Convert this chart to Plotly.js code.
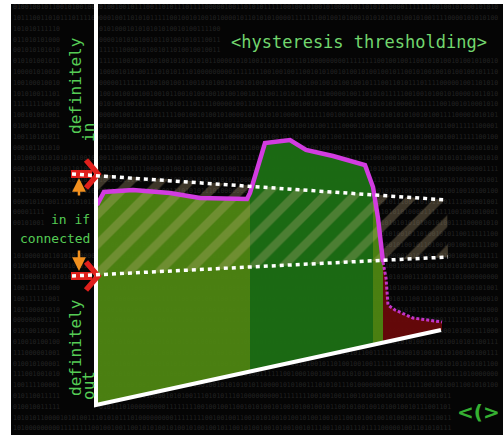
<!DOCTYPE html>
<html>
<head>
<meta charset="utf-8">
<script src="https://cdn.plot.ly/plotly-3.0.1.min.js"></script>
<style>
  html, body { margin: 0; padding: 0; background: #ffffff; }
  #chart { width: 503px; height: 435px; }
</style>
</head>
<body>
<div id="chart"></div>
<script>
// ---- data (picture coordinates: x to the right, y downward) ----
// image signal (magenta profile)
const signalX = [97, 104, 133, 170, 200, 247, 250, 265, 290, 306, 333, 365, 373, 378, 383];
const signalY = [205, 192, 190, 193, 198, 199, 193, 143, 140, 150, 156, 165, 187, 218, 262];
// tail of the signal (dotted, below the low threshold)
const tailX = [383, 386, 388, 395, 413, 442];
const tailY = [262, 278, 305, 310, 318, 322];
// slanted baseline (bottom axis)
const baseX = [97, 250, 373, 383, 442];
const baseY = [405, 371, 345, 342, 330];
// axes
const axisX = [96, 96, 441];
const axisY = [4, 405, 330];
// thresholds (start, end)
const highX = [72, 447];
const highY = [174, 200];
const lowX = [72, 448];
const lowY = [276, 257];
// hatched "in if connected" band
const bandX = [96, 447, 448, 96];
const bandY = [174, 200, 257, 276];
// red markers on the vertical axis
const markerLevels = [174, 276];
// label texts
const titleText = "<hysteresis thresholding>";
const midLabels = ["in if", "connected"];
const topLabels = ["definitely", "in"];
const bottomLabels = ["definitely", "out"];
const logoText = "<(>";
// binary digits of the backdrop (cycled row by row)
const binaryPool = [
  "010010010110010100100101001001011100110101",
  "110111100000100110101011111001001010010100",
  "001011010101000011111110010010100010101010",
  "101001010011110000101010100101101001010110",
  "011111100001010010110100100100111111001000",
  "100100101010101011000010101001110101011101",
  "000000000111111110010010011001010100101001"
];

const traces = [];

// ---- backdrop binary rows, kept clear of the labels ----
const labelBoxes = [
  [226, 492, 30, 55],   // title
  [48, 94, 209, 229],   // in if
  [16, 94, 228, 248],   // connected
  [64, 98, 32, 145],    // definitely / in
  [64, 98, 292, 404],   // definitely / out
  [455, 503, 399, 426]  // logo
];
const digitStream = binaryPool.join('');
const charW = 3.92;
const bgX = [], bgY = [], bgT = [];
for (let i = 0; i < 40; i++) {
  const y = 7.5 + i * 10.8;
  let free = [[12, 502]];
  labelBoxes.forEach(function (b) {
    if (y + 4 < b[2] || y - 4 > b[3]) return;
    const next = [];
    free.forEach(function (f) {
      if (b[1] <= f[0] || b[0] >= f[1]) { next.push(f); return; }
      if (b[0] > f[0]) next.push([f[0], b[0]]);
      if (b[1] < f[1]) next.push([b[1], f[1]]);
    });
    free = next;
  });
  free.forEach(function (f, k) {
    const n = Math.floor((f[1] - f[0]) / charW) - 1;
    if (n < 3) return;
    const start = (i * 29 + k * 53) % digitStream.length;
    let s = '';
    for (let c = 0; c < n; c++) s += digitStream[(start + c) % digitStream.length];
    bgX.push(f[0] + 1); bgY.push(y); bgT.push(s);
  });
}
traces.push({
  x: bgX, y: bgY, text: bgT, mode: 'text', type: 'scatter',
  textposition: 'middle right', cliponaxis: false,
  textfont: { family: 'DejaVu Sans Mono', size: 6.5, color: '#222222' },
  hoverinfo: 'skip', showlegend: false
});

// olive area under the whole signal
traces.push({
  x: signalX.concat([baseX[3], baseX[0]]), y: signalY.concat([baseY[3], baseY[0]]),
  type: 'scatter', mode: 'lines', fill: 'toself',
  fillcolor: 'rgba(78,134,18,0.95)', line: { width: 0 }, hoverinfo: 'skip', showlegend: false
});
// dark green section
traces.push({
  x: signalX.slice(6, 13).concat([baseX[2], baseX[1]]), y: signalY.slice(6, 13).concat([baseY[2], baseY[1]]),
  type: 'scatter', mode: 'lines', fill: 'toself',
  fillcolor: 'rgba(24,104,20,0.95)', line: { width: 0 }, hoverinfo: 'skip', showlegend: false
});
// red tail section
traces.push({
  x: tailX.concat([baseX[4], baseX[3]]), y: tailY.concat([baseY[4], baseY[3]]),
  type: 'scatter', mode: 'lines', fill: 'toself',
  fillcolor: 'rgba(104,8,10,0.95)', line: { width: 0 }, hoverinfo: 'skip', showlegend: false
});

// hatched band
traces.push({
  x: bandX.concat([bandX[0]]), y: bandY.concat([bandY[0]]), type: 'scatter', mode: 'lines',
  fill: 'toself', fillcolor: 'rgba(0,0,0,0)',
  fillpattern: { shape: '/', fgcolor: 'rgb(205,180,130)', fgopacity: 0.28, bgcolor: 'rgba(0,0,0,0)', size: 21, solidity: 0.4 },
  line: { width: 0 }, hoverinfo: 'skip', showlegend: false
});

// magenta signal line
traces.push({
  x: signalX, y: signalY, type: 'scatter', mode: 'lines',
  line: { color: '#d23ce0', width: 4.5 }, hoverinfo: 'skip', showlegend: false
});
traces.push({
  x: tailX, y: tailY, type: 'scatter', mode: 'lines',
  line: { color: '#c234c8', width: 3, dash: '3px,2px' }, hoverinfo: 'skip', showlegend: false
});

// white axes
traces.push({
  x: axisX, y: axisY, type: 'scatter', mode: 'lines',
  line: { color: '#ffffff', width: 4 }, hoverinfo: 'skip', showlegend: false
});

// red markers (bar + chevron) at each threshold
markerLevels.forEach(function (lv) {
  traces.push({
    x: [71, 92], y: [lv, lv], type: 'scatter', mode: 'lines',
    line: { color: '#e0201c', width: 8 }, hoverinfo: 'skip', showlegend: false
  });
  traces.push({
    x: [86, 98, 86], y: [lv - 14, lv, lv + 14], type: 'scatter', mode: 'lines',
    line: { color: '#e0201c', width: 5.5 }, hoverinfo: 'skip', showlegend: false
  });
});

// dotted threshold lines
[[highX, highY], [lowX, lowY]].forEach(function (p) {
  traces.push({
    x: p[0], y: p[1], type: 'scatter', mode: 'lines',
    line: { color: '#ffffff', width: 3.5, dash: '4px,4px' }, hoverinfo: 'skip', showlegend: false
  });
});

const labelColor = '#55cc55';
const mono = 'DejaVu Sans Mono';
const annotations = [
  { x: 359, y: 42, text: titleText, showarrow: false, font: { family: mono, size: 17, color: '#72d66e' } },
  { x: 75, y: 86, text: topLabels[0], textangle: -90, showarrow: false, font: { family: mono, size: 16, color: labelColor } },
  { x: 88, y: 133, text: topLabels[1], textangle: -90, showarrow: false, font: { family: mono, size: 16, color: labelColor } },
  { x: 75, y: 348, text: bottomLabels[0], textangle: -90, showarrow: false, font: { family: mono, size: 16, color: labelColor } },
  { x: 88, y: 386, text: bottomLabels[1], textangle: -90, showarrow: false, font: { family: mono, size: 16, color: labelColor } },
  { x: 92, y: 219, text: midLabels[0], xanchor: 'right', showarrow: false, font: { family: mono, size: 13, color: labelColor } },
  { x: 92, y: 238, text: midLabels[1], xanchor: 'right', showarrow: false, font: { family: mono, size: 13, color: labelColor } },
  { x: 502, y: 412, text: '<b>' + logoText + '</b>', xanchor: 'right', showarrow: false, font: { family: 'DejaVu Sans', size: 20, color: '#35b032' } },
  // orange arrows
  { x: 79, y: 178, ax: 79, ay: 197, axref: 'x', ayref: 'y', xref: 'x', yref: 'y', text: '', showarrow: true, arrowhead: 2, arrowsize: 1.1, arrowwidth: 2.5, arrowcolor: '#f2901e' },
  { x: 79, y: 271, ax: 79, ay: 249, axref: 'x', ayref: 'y', xref: 'x', yref: 'y', text: '', showarrow: true, arrowhead: 2, arrowsize: 1.1, arrowwidth: 2.5, arrowcolor: '#f2901e' }
];

const layout = {
  width: 503, height: 435,
  margin: { l: 11, r: 0, t: 4, b: 0, pad: 0 },
  paper_bgcolor: '#ffffff',
  plot_bgcolor: '#050505',
  showlegend: false,
  hovermode: false,
  xaxis: { range: [11, 503], visible: false, fixedrange: true },
  yaxis: { range: [435, 4], visible: false, fixedrange: true },
  annotations: annotations
};

Plotly.newPlot('chart', traces, layout, { displayModeBar: false, staticPlot: true });
</script>
</body>
</html>
